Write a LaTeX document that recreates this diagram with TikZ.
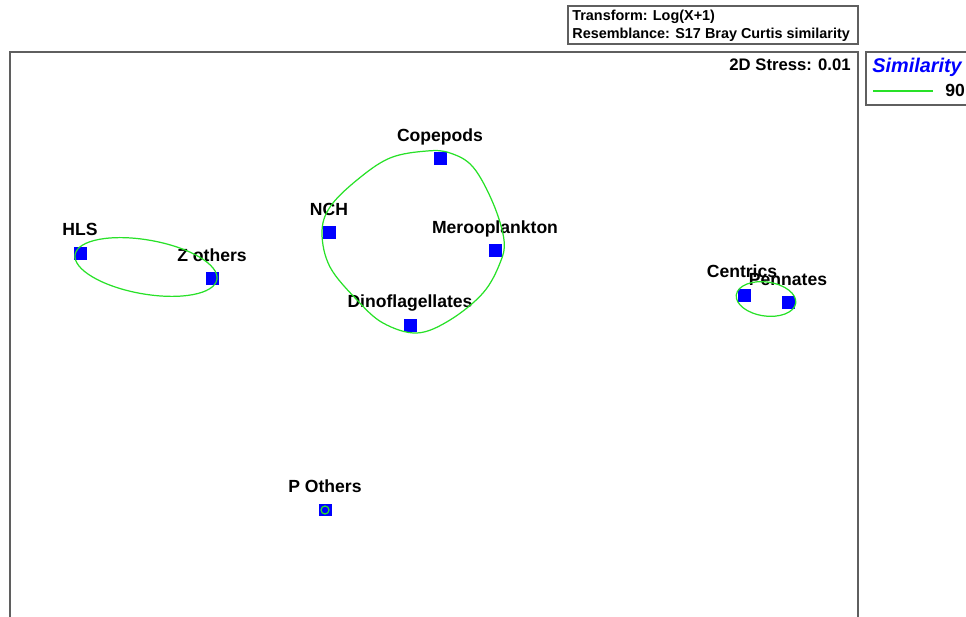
\documentclass[tikz,border=0pt]{standalone}
\usepackage{fontspec}
\setmainfont{Liberation Sans}
\usetikzlibrary{positioning}
\definecolor{mdsblue}{RGB}{0,0,255}
\definecolor{simgreen}{RGB}{40,225,40}
\definecolor{framegray}{RGB}{95,95,95}
\tikzset{
  sample/.style={
    rectangle, fill=mdsblue, minimum size=0.26cm, inner sep=0pt
  },
  samplelab/.style={
    anchor=base, inner sep=0pt,
    font=\fontsize{10}{12}\selectfont\bfseries
  },
  infotext/.style={
    anchor=base west, inner sep=0pt,
    font=\fontsize{8.2}{10}\selectfont\bfseries
  },
  contour/.style={draw=simgreen, line width=0.7pt},
  plotframe/.style={draw=framegray, line width=1.1pt},
}

\begin{document}
\begin{tikzpicture}[x=0.02cm, y=-0.02cm]
    \clip (0,0) rectangle (966,617);

    % frames
    \draw[plotframe] (10,620) -- (10,52) -- (858,52) -- (858,620);
    \draw[plotframe] (970,52) -- (866,52) -- (866,105) -- (970,105);
    \draw[draw=framegray, line width=0.8pt] (568,6) rectangle (858,44);

    \node[infotext] (trans) at (572,21) {Transform: Log(X+1)};
    \node[infotext] (resem) at (572,39) {Resemblance: S17 Bray Curtis similarity};
    \node[samplelab, anchor=base east, font=\fontsize{9.5}{11}\selectfont\bfseries]
         (stress) at (851,71) {2D Stress: 0.01};

    % legend
    \node[anchor=base west, inner sep=0pt, text=mdsblue,
          font=\fontsize{11.3}{13}\selectfont\bfseries\itshape]
         (simtitle) at (872,73) {Similarity};
    \coordinate (lega) at (873,91);
    \coordinate (legb) at (933,91);
    \draw[contour] (lega) -- (legb);
    \node[anchor=base west, inner sep=0pt, font=\fontsize{10}{12}\selectfont\bfseries]
         (simval) at (945,97) {90};

    % samples
    \foreach \nm/\px/\py/\lx/\ly/\txt in {
        hls/80/254/80/236/HLS,
        zoth/212/279/212/262/Z others,
        nch/329/233/329/216/NCH,
        cope/440/159/440/142/Copepods,
        mero/495/251/495/234/Merooplankton,
        dino/410/326/410/308/Dinoflagellates,
        cent/744/296/742/278/Centrics,
        penn/788/303/788/286/Pennates,
        poth/325/510/325/493/P Others}
    {
      \node[sample] (\nm) at (\px,\py) {};
      \node[samplelab] (\nm-lab) at (\lx,\ly) {\txt};
    }

    % similarity contours
    \draw[contour] (146,267) ellipse [x radius=1.44cm, y radius=0.54cm, rotate=-10];
    \draw[contour] (766,299) ellipse [x radius=0.6cm, y radius=0.34cm, rotate=-8];
    \draw[contour] (poth.center) circle [radius=0.08cm];
    \draw[contour] plot[smooth cycle, tension=0.6] coordinates {
        (427,151) (450,153) (473,167) (493,203) (504,240) (500,263)
        (483,293) (450,320) (417,333) (383,323) (357,300) (330,267)
        (322,233) (330,207) (357,180) (390,158)};

\end{tikzpicture}
\end{document}
